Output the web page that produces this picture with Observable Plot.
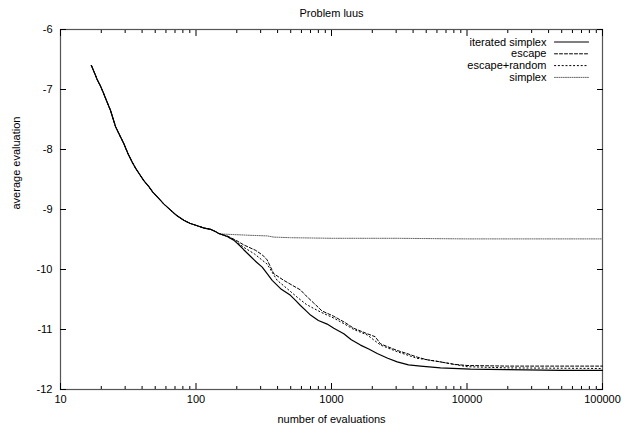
<!DOCTYPE html>
<html><head><meta charset="utf-8">
<script src="https://cdn.jsdelivr.net/npm/d3@7"></script>
<script src="https://cdn.jsdelivr.net/npm/@observablehq/plot@0.6"></script>
<style>body{margin:0;background:#fff}</style>
</head><body><div id="chart"></div>
<script>
const title = "Problem luus";
const xLabel = "number of evaluations";
const yLabel = "average evaluation";
const seriesNames = ["iterated simplex", "escape", "escape+random", "simplex"];
const xTicks = [10, 100, 1000, 10000, 100000];
const yTicks = [-12, -11, -10, -9, -8, -7, -6];

// shared start of all four runs
const commonX = [16.9,17.8,18.7,19.6,20.5,21.8,23.4,25.5,27.3,29.3,31.5,33.8,36,38,41.2,44.9,48,51.8,58,64.9,72,81.3,90,102,115,128,140,147];
const commonY = [-6.60,-6.72,-6.84,-6.93,-7.03,-7.18,-7.35,-7.62,-7.76,-7.90,-8.07,-8.21,-8.32,-8.40,-8.52,-8.62,-8.71,-8.79,-8.91,-9.01,-9.10,-9.18,-9.23,-9.27,-9.31,-9.33,-9.37,-9.40];

const iterX = [170,190,210,225,252,280,308,335,365,421,498,545,590,650,700,800,929,1040,1233,1400,1637,1900,2174,2600,3055,3700,4540,6370,10600,20000,50000,100000];
const iterY = [-9.45,-9.51,-9.60,-9.67,-9.78,-9.88,-9.96,-10.07,-10.18,-10.32,-10.43,-10.52,-10.60,-10.69,-10.76,-10.85,-10.91,-10.98,-11.07,-11.17,-11.26,-11.33,-11.40,-11.48,-11.54,-11.59,-11.61,-11.64,-11.66,-11.67,-11.68,-11.68];

const escX = [170,200,225,275,310,335,375,444,520,590,650,740,850,1040,1250,1461,1832,2100,2303,3055,3600,4285,5200,6370,8000,10000,20000,100000];
const escY = [-9.44,-9.52,-9.59,-9.68,-9.76,-9.84,-10.07,-10.18,-10.27,-10.34,-10.44,-10.56,-10.69,-10.78,-10.88,-10.98,-11.07,-11.12,-11.24,-11.35,-11.40,-11.46,-11.51,-11.54,-11.58,-11.60,-11.61,-11.61];

const escRndX = [170,200,225,270,310,335,397,460,557,650,740,850,1040,1250,1461,1832,2303,3055,4285,5685,7555,10000,20000,100000];
const escRndY = [-9.45,-9.54,-9.63,-9.74,-9.85,-9.91,-10.18,-10.30,-10.46,-10.58,-10.65,-10.72,-10.81,-10.91,-11.00,-11.09,-11.26,-11.37,-11.48,-11.52,-11.57,-11.62,-11.64,-11.65];

const simplexX = [160,200,250,335,375,500,1000,3000,10000,100000];
const simplexY = [-9.41,-9.42,-9.43,-9.44,-9.46,-9.47,-9.48,-9.48,-9.49,-9.49];

const seriesX = [iterX, escX, escRndX, simplexX];
const seriesY = [iterY, escY, escRndY, simplexY];

const styles = [
  {stroke: "#000", strokeWidth: 1.2, strokeDasharray: null},
  {stroke: "#000", strokeWidth: 1, strokeDasharray: "3,2"},
  {stroke: "#000", strokeWidth: 1, strokeDasharray: "1.2,2.6"},
  {stroke: "#666", strokeWidth: 1, strokeDasharray: "1,1.2"}
];

const data = seriesNames.flatMap((name, i) =>
  commonX.concat(seriesX[i]).map((x, j) => ({series: name, x, y: commonY.concat(seriesY[i])[j]})));

const xMinor = d3.range(1, 5).flatMap(e => d3.range(2, 10).map(m => m * 10 ** e));
const blank = () => "";
const lineShape = {draw(context, l) { context.moveTo(0, 0); context.lineTo(0, -l); }};

const drawOrder = [3, 2, 1, 0];
const marks = [
  Plot.frame({stroke: "#555", strokeWidth: 1.2}),
  Plot.axisX(xTicks, {anchor: "bottom", tickSize: 0, tickPadding: 6, tickFormat: d => String(d), label: null}),
  Plot.axisX(xTicks, {anchor: "bottom", tickSize: 6, dy: -6, tickFormat: blank, label: null}),
  Plot.axisX(xMinor, {anchor: "bottom", tickSize: 3, dy: -3, tickFormat: blank, label: null}),
  Plot.axisX(xTicks, {anchor: "top", tickSize: 6, dy: 6, tickFormat: blank, label: null}),
  Plot.axisX(xMinor, {anchor: "top", tickSize: 3, dy: 3, tickFormat: blank, label: null}),
  Plot.axisY(yTicks, {anchor: "left", tickSize: 0, tickPadding: 8, tickFormat: d => String(d), label: null}),
  Plot.axisY(yTicks, {anchor: "left", tickSize: 6, dx: 6, tickFormat: blank, label: null}),
  Plot.axisY(yTicks, {anchor: "right", tickSize: 6, dx: -6, tickFormat: blank, label: null}),
  ...drawOrder.map(i => Plot.line(data.filter(d => d.series === seriesNames[i]), {x: "x", y: "y", ...styles[i]})),
  Plot.text([title], {text: d => d, frameAnchor: "top", lineAnchor: "middle", dy: -16}),
  Plot.text([xLabel], {text: d => d, frameAnchor: "bottom", lineAnchor: "middle", dy: 30}),
  Plot.text([yLabel], {text: d => d, frameAnchor: "left", lineAnchor: "middle", dx: -44, rotate: -90}),
  ...seriesNames.map((s, i) => Plot.text([s], {text: d => d, frameAnchor: "top-right", textAnchor: "end", lineAnchor: "middle", dx: -56, dy: 12.5 + 11.8 * i})),
  ...seriesNames.map((s, i) => Plot.vector([s], {frameAnchor: "top-right", dx: -48, dy: 12.5 + 11.8 * i, length: 34, rotate: 90, anchor: "start", shape: lineShape, ...styles[i]}))
];

const chart = Plot.plot({
  width: 636,
  height: 433,
  marginLeft: 60,
  marginRight: 34,
  marginTop: 29,
  marginBottom: 44,
  style: {fontFamily: "'Liberation Sans', Arial, sans-serif", fontSize: "11px", background: "#fff", color: "#000"},
  x: {type: "log", domain: [10, 100000]},
  y: {domain: [-12, -6]},
  marks
});
document.getElementById("chart").appendChild(chart);
</script>
</body></html>
